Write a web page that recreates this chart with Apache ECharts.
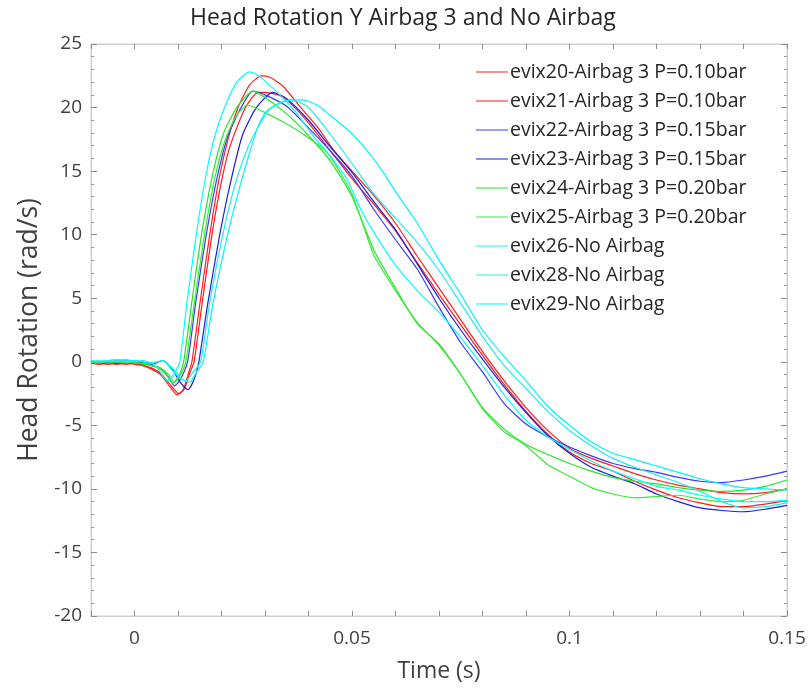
<!DOCTYPE html>
<html><head><meta charset="utf-8">
<script src="https://cdn.jsdelivr.net/npm/echarts@6/dist/echarts.min.js"></script>
<style>html,body{margin:0;padding:0;background:#fff}#c{width:811px;height:693px}</style>
</head><body><div id="c"></div>
<script>
const seriesNames = ['evix20-Airbag 3 P=0.10bar','evix21-Airbag 3 P=0.10bar','evix22-Airbag 3 P=0.15bar','evix23-Airbag 3 P=0.15bar','evix24-Airbag 3 P=0.20bar','evix25-Airbag 3 P=0.20bar','evix26-No Airbag','evix28-No Airbag','evix29-No Airbag'];
const xTickLabels = [0, 0.05, 0.1, 0.15];
const yTickLabels = [-20,-15,-10,-5,0,5,10,15,20,25];

const evix20 = [[-0.01,-0.1],[-0.008,-0.2],[-0.006,-0.1],[-0.004,-0.2],[-0.002,-0.1],[0,-0.2],[0.002,-0.3],[0.004,-0.6],[0.006,-1.0],[0.008,-1.9],[0.0098,-2.6],[0.0112,-2.2],[0.0125,-0.8],[0.0132,0],[0.015,4.5],[0.0173,10],[0.0195,14.5],[0.0215,17.5],[0.0238,20],[0.0265,21.8],[0.0292,22.5],[0.031,22.4],[0.0341,21.7],[0.038,20.1],[0.042,18.5],[0.0457,16.7],[0.05,15.0],[0.055,13.1],[0.06,10.9],[0.065,8.3],[0.07,5.8],[0.075,3.3],[0.08,0.8],[0.085,-1.5],[0.09,-3.6],[0.095,-5.4],[0.1,-6.8],[0.105,-7.6],[0.11,-8.2],[0.115,-8.8],[0.12,-9.3],[0.125,-9.7],[0.13,-10.0],[0.135,-10.3],[0.14,-10.4],[0.145,-10.3],[0.15,-10.0]];
const evix21 = [[-0.01,0],[-0.008,-0.1],[-0.006,-0.2],[-0.004,-0.1],[-0.002,-0.2],[0,-0.1],[0.002,-0.3],[0.004,-0.5],[0.006,-0.9],[0.008,-1.7],[0.0102,-2.5],[0.0115,-2.1],[0.0128,-0.8],[0.0137,0],[0.0155,4.5],[0.0178,10],[0.02,14.2],[0.022,17],[0.0255,20],[0.0284,21.2],[0.03,21.2],[0.033,21.0],[0.035,20.6],[0.04,18.8],[0.045,16.6],[0.05,14.4],[0.055,12.4],[0.06,10.3],[0.065,7.8],[0.07,5.3],[0.075,2.9],[0.08,0.5],[0.085,-1.8],[0.09,-3.9],[0.095,-5.7],[0.1,-7.1],[0.105,-8.0],[0.11,-8.6],[0.115,-9.4],[0.12,-10.1],[0.125,-10.7],[0.13,-11.1],[0.135,-11.4],[0.14,-11.4],[0.145,-11.2],[0.15,-10.9]];
const evix22 = [[-0.01,-0.1],[-0.008,0],[-0.006,-0.1],[-0.004,0.1],[-0.002,0],[0,-0.1],[0.002,-0.1],[0.004,-0.3],[0.006,-0.5],[0.0078,-1.2],[0.0092,-1.9],[0.0105,-1.4],[0.0122,0],[0.014,4.5],[0.0165,10],[0.019,14.5],[0.0215,17.8],[0.0245,20.0],[0.0272,21.3],[0.03,21.0],[0.035,20.1],[0.04,18.4],[0.045,16.6],[0.05,14.6],[0.055,12.0],[0.06,9.6],[0.065,7.3],[0.07,4.3],[0.075,1.5],[0.08,-0.8],[0.085,-3.3],[0.09,-4.9],[0.095,-5.9],[0.1,-6.7],[0.105,-7.4],[0.11,-8.0],[0.115,-8.4],[0.12,-8.7],[0.125,-9.1],[0.13,-9.4],[0.135,-9.5],[0.14,-9.3],[0.145,-9.0],[0.15,-8.6]];
const evix23 = [[-0.01,0],[-0.008,-0.1],[-0.006,0],[-0.004,-0.1],[-0.002,0.1],[0,0],[0.002,-0.1],[0.004,-0.2],[0.0065,0.1],[0.0085,-0.5],[0.0105,-1.6],[0.0123,-2.2],[0.0138,-1.3],[0.0148,0],[0.0168,4.5],[0.0196,10],[0.022,14],[0.0248,17.8],[0.028,20.0],[0.0318,21.2],[0.035,20.7],[0.04,19.0],[0.045,16.9],[0.05,14.9],[0.055,12.6],[0.06,10.4],[0.065,7.7],[0.07,5.0],[0.075,2.5],[0.08,0.2],[0.085,-2.0],[0.09,-4.0],[0.095,-5.8],[0.1,-7.2],[0.105,-8.3],[0.11,-9.0],[0.115,-9.6],[0.12,-10.4],[0.125,-11.0],[0.13,-11.5],[0.135,-11.7],[0.14,-11.8],[0.145,-11.6],[0.15,-11.3]];
const evix24 = [[-0.01,-0.1],[-0.008,0],[-0.006,-0.1],[-0.004,0],[-0.002,-0.1],[0,0],[0.002,-0.2],[0.004,-0.3],[0.006,-0.6],[0.0075,-1.1],[0.0088,-1.7],[0.0102,-1.1],[0.0113,0],[0.0131,4.5],[0.0154,10],[0.018,14.8],[0.0205,18],[0.0235,20.0],[0.0272,21.3],[0.03,20.8],[0.035,19.5],[0.04,17.8],[0.045,15.8],[0.05,13.0],[0.055,8.8],[0.06,5.8],[0.065,3.0],[0.07,1.4],[0.075,-1.0],[0.08,-3.6],[0.085,-5.3],[0.09,-6.5],[0.095,-7.3],[0.1,-8.0],[0.105,-8.6],[0.11,-9.1],[0.115,-9.4],[0.12,-9.6],[0.125,-9.9],[0.13,-10.1],[0.135,-10.2],[0.14,-10.1],[0.145,-9.8],[0.15,-9.3]];
const evix25 = [[-0.01,0],[-0.008,-0.1],[-0.006,0.1],[-0.004,0],[-0.002,0],[0,-0.1],[0.002,-0.1],[0.004,-0.3],[0.006,-0.5],[0.0078,-1.0],[0.0092,-1.6],[0.0106,-1.0],[0.0118,0],[0.0137,4.5],[0.0161,10],[0.0185,14.5],[0.021,17.6],[0.0235,19.4],[0.026,20.2],[0.03,19.6],[0.035,18.7],[0.0388,17.9],[0.0442,16.5],[0.05,13.2],[0.055,8.4],[0.06,5.6],[0.065,3.1],[0.07,1.3],[0.075,-1.0],[0.08,-3.7],[0.085,-5.5],[0.09,-6.6],[0.095,-8.1],[0.1,-9.0],[0.105,-9.9],[0.11,-10.4],[0.115,-10.7],[0.12,-10.6],[0.125,-10.5],[0.13,-10.8],[0.135,-11.0],[0.14,-10.9],[0.145,-10.4],[0.15,-10.0]];
const evix26 = [[-0.01,0.1],[-0.008,0],[-0.006,0.1],[-0.004,0.2],[-0.002,0],[0,0.1],[0.002,0],[0.004,-0.1],[0.0055,-0.6],[0.0075,-1.5],[0.009,-1.0],[0.0104,0],[0.012,4.5],[0.0142,10],[0.0165,14.8],[0.0185,17.8],[0.0207,20],[0.0235,22],[0.0265,22.8],[0.0285,22.5],[0.0303,22.0],[0.0334,21.0],[0.0372,19.6],[0.041,17.8],[0.045,16.2],[0.0488,14.4],[0.052,12.0],[0.055,10.2],[0.06,7.6],[0.065,5.6],[0.07,3.9],[0.075,1.9],[0.08,-0.3],[0.085,-2.6],[0.09,-4.6],[0.095,-5.9],[0.1,-6.9],[0.105,-7.8],[0.11,-8.6],[0.115,-9.2],[0.12,-9.8],[0.125,-10.1],[0.13,-10.5],[0.135,-10.8],[0.14,-11.0],[0.145,-11.0],[0.15,-10.9]];
const evix28 = [[-0.01,0],[-0.008,0.1],[-0.006,0],[-0.004,0.1],[-0.002,0.2],[0,0],[0.002,0.1],[0.004,-0.1],[0.0065,0.1],[0.0085,-0.6],[0.0105,-1.3],[0.0118,-1.5],[0.0135,-0.8],[0.0152,0],[0.0172,4.5],[0.0203,10],[0.023,13.8],[0.026,16.8],[0.029,18.8],[0.0315,20],[0.036,20.6],[0.04,20.0],[0.045,17.9],[0.05,15.6],[0.055,13.2],[0.06,11.3],[0.065,9.4],[0.07,7.2],[0.075,4.6],[0.08,2.0],[0.085,-0.3],[0.09,-2.1],[0.095,-3.9],[0.1,-5.4],[0.105,-6.6],[0.11,-7.6],[0.115,-8.3],[0.12,-8.9],[0.125,-9.5],[0.13,-10.2],[0.135,-11.0],[0.14,-11.5],[0.145,-11.4],[0.15,-11.1]];
const evix29 = [[-0.01,0.1],[-0.008,0],[-0.006,0.1],[-0.004,0],[-0.002,0.1],[0,0.1],[0.002,0],[0.004,-0.1],[0.0065,0.1],[0.009,-0.6],[0.011,-1.4],[0.0127,-1.6],[0.0143,-0.8],[0.0158,0],[0.018,4.5],[0.0214,10],[0.024,13.5],[0.0265,16.5],[0.0285,18.6],[0.0303,19.7],[0.0341,20.5],[0.0387,20.6],[0.042,20.2],[0.0442,19.6],[0.0495,18.1],[0.0535,16.6],[0.0572,14.9],[0.06,13.4],[0.065,10.9],[0.07,8.0],[0.075,5.3],[0.08,2.5],[0.085,0.4],[0.09,-1.5],[0.095,-3.5],[0.1,-5.0],[0.105,-6.3],[0.11,-7.2],[0.115,-7.7],[0.12,-8.2],[0.125,-8.7],[0.13,-9.2],[0.135,-9.6],[0.14,-9.9],[0.145,-10.0],[0.15,-10.1]];

const allData = [evix20, evix21, evix22, evix23, evix24, evix25, evix26, evix28, evix29];
const colors = ['#ff2020','#ff1a1a','#3a3aff','#1c1ce0','#22e622','#3ae83a','#00ffff','#20ecec','#00f4ff'];

const FONT = '"Open Sans", "Noto Sans", sans-serif';
const chart = echarts.init(document.getElementById('c'), null, {renderer:'canvas'});
const axisCommon = {
  axisLine:{show:true, onZero:false, lineStyle:{color:'#cfcfcf', width:1}},
  splitLine:{show:false}
};
chart.setOption({
  animation:false,
  backgroundColor:'#fff',
  title:{text:'Head Rotation Y Airbag 3 and No Airbag', left:185, top:2,
    textStyle:{fontFamily:FONT, fontSize:23, fontWeight:'normal', color:'#262626'}},
  grid:{left:91, top:44, right:24, bottom:77, show:true, borderColor:'#cfcfcf', borderWidth:1},
  legend:{orient:'vertical', left:471, top:57, itemWidth:32, itemHeight:12, itemGap:9,
    icon:'path://M0,5 L32,5 L32,6 L0,6 Z',
    textStyle:{fontFamily:FONT, fontSize:19.5, lineHeight:19, color:'#262626', padding:[0,0,0,-3]},
    data:seriesNames},
  xAxis:[
    Object.assign({type:'value', min:-0.01, max:0.15, interval:0.01, position:'bottom',
      name:'Time (s)', nameLocation:'middle', nameGap:44,
      nameTextStyle:{fontFamily:FONT, fontSize:23, color:'#404040'},
      axisTick:{show:true, inside:true, length:5, lineStyle:{color:'#8a8a8a'}},
      axisLabel:{fontFamily:FONT, fontSize:19, color:'#404040', margin:13,
        formatter:v=>{const m=xTickLabels.find(t=>Math.abs(t-v)<1e-9);return m===undefined?'':String(m);}}
    }, axisCommon),
    Object.assign({type:'value', min:-0.01, max:0.15, interval:0.01, position:'top',
      axisTick:{show:true, inside:true, length:5, lineStyle:{color:'#8a8a8a'}},
      axisLabel:{show:false}}, axisCommon)
  ],
  yAxis:[
    Object.assign({type:'value', min:-20, max:25, interval:5, position:'left',
      name:'Head Rotation (rad/s)', nameLocation:'middle', nameGap:48, nameRotate:90,
      nameTextStyle:{fontFamily:FONT, fontSize:26.5, color:'#404040'},
      axisTick:{show:true, inside:true, length:6, lineStyle:{color:'#8a8a8a'}},
      minorTick:{show:true, splitNumber:5, length:3, lineStyle:{color:'#9a9a9a'}},
      axisLabel:{fontFamily:FONT, fontSize:19, color:'#404040', margin:9,
        formatter:v=>{const m=yTickLabels.find(t=>Math.abs(t-v)<1e-9);return m===undefined?'':String(m);}}
    }, axisCommon),
    Object.assign({type:'value', min:-20, max:25, interval:5, position:'right',
      axisTick:{show:true, inside:true, length:6, lineStyle:{color:'#8a8a8a'}},
      minorTick:{show:true, splitNumber:5, length:3, lineStyle:{color:'#9a9a9a'}},
      axisLabel:{show:false}}, axisCommon)
  ],
  series: allData.map((d,i)=>({
    name:seriesNames[i], type:'line', data:d, xAxisIndex:0, yAxisIndex:0,
    showSymbol:false, symbol:'none', smooth:0.2,
    itemStyle:{color:colors[i]},
    lineStyle:{color:colors[i], width:1.2}
  }))
});
</script></body></html>
